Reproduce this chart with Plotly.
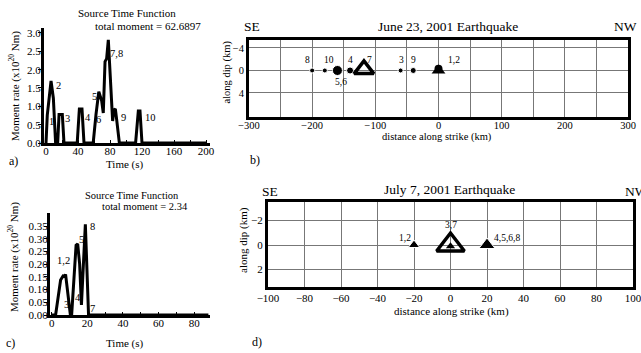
import plotly.graph_objects as go

W, H = 641, 353
FONT = "Liberation Serif"

# ---- data ----
# panel a: source time function, June 23 2001
t_a = [0, 1.6, 6.3, 9.2, 12, 14.6, 16.3, 20.4, 22.5, 39, 41.7, 45, 47.5, 59, 62.5, 66, 69.6,
       71.6, 73.8, 75.8, 77.9, 80, 82, 83.3, 85, 86.7, 88, 91.7, 112, 115.4, 117.5, 120, 200]
v_a = [0, 0.76, 1.69, 1.22, 0, 0, 0.78, 0.78, 0, 0, 0.93, 0.93, 0, 0, 0.78, 1.4, 1.15,
       0.82, 2.22, 2.3, 2.81, 1.95, 0.99, 0.6, 0.9, 0.93, 0.7, 0, 0, 0.87, 0.87, 0, 0]
lab_a = ["1", "2", "3", "4", "5", "6", "7,8", "9", "10"]
lab_a_t = [7, 16, 27, 53, 61, 66, 88, 97, 130]
lab_a_v = [0.58, 1.58, 0.68, 0.7, 1.26, 0.63, 2.45, 0.7, 0.7]
ticks_a_y = [0.0, 0.5, 1.0, 1.5, 2.0, 2.5, 3.0]

# panel c: source time function, July 7 2001
t_c = [0, 2.2, 5, 6.7, 7.2, 7.8, 10.5, 11.2, 13.7, 14.6, 15.7, 16.7, 18.9, 20.7, 88]
v_c = [0, 0, 0.138, 0.157, 0.148, 0.16, 0, 0, 0.275, 0.28, 0.2, 0.04, 0.357, 0, 0]
lab_c = ["1,2", "3", "4", "5", "8", "7"]
lab_c_t = [6.9, 8.3, 15, 16.7, 23, 23]
lab_c_v = [0.216, 0.04, 0.07, 0.298, 0.35, 0.027]
ticks_c_y = [0.0, 0.05, 0.10, 0.15, 0.20, 0.25, 0.30, 0.35]

# panel b: subevent locations, June 23
b_x = [-200, -180, -160, -140, -60, -40]
b_size = [5, 5, 10, 7, 5, 6]
b_hypo_x = [-118]
b_12_x = [0]
lab_b = ["8", "10", "5,6", "4", "7", "3", "9", "1,2"]
lab_b_x = [-207, -174, -155, -139, -109, -59, -39, 24]
lab_b_y = [-1.95, -1.95, 2.0, -1.95, -1.95, -1.95, -1.95, -1.95]

# panel d: subevent locations, July 7
d_x = [-20, 20]
d_size = [10, 14]
d_hypo_x = [0]
lab_d = ["1,2", "3,7", "4,5,6,8"]
lab_d_x = [-25, 0, 31]
lab_d_y = [-0.6, -1.6, -0.6]


def px(x):
    return x / W


def py(y):
    return 1 - y / H


fig = go.Figure()

# traces
fig.add_trace(go.Scatter(x=t_a, y=v_a, mode="lines", line=dict(color="black", width=3),
                         xaxis="x", yaxis="y", cliponaxis=False, hoverinfo="skip"))
fig.add_trace(go.Scatter(x=t_c, y=v_c, mode="lines", line=dict(color="black", width=3),
                         xaxis="x3", yaxis="y3", cliponaxis=False, hoverinfo="skip"))

fig.add_trace(go.Scatter(x=b_x, y=[0] * len(b_x), mode="markers",
                         marker=dict(color="black", size=b_size, symbol="circle", opacity=1),
                         xaxis="x2", yaxis="y2", hoverinfo="skip"))
fig.add_trace(go.Scatter(x=b_12_x, y=[0], mode="markers",
                         marker=dict(color="black", size=12, symbol="triangle-up", opacity=1),
                         xaxis="x2", yaxis="y2", hoverinfo="skip"))
fig.add_trace(go.Scatter(x=b_12_x, y=[-0.3], mode="markers",
                         marker=dict(color="black", size=8, symbol="circle", opacity=1),
                         xaxis="x2", yaxis="y2", hoverinfo="skip"))
fig.add_trace(go.Scatter(x=b_hypo_x, y=[-0.2], mode="markers",
                         marker=dict(color="black", size=17, symbol="triangle-up-open", opacity=1,
                                     line=dict(width=3.5, color="black")),
                         xaxis="x2", yaxis="y2", hoverinfo="skip"))

fig.add_trace(go.Scatter(x=d_x, y=[0, 0], mode="markers",
                         marker=dict(color="black", size=d_size, symbol="triangle-up", opacity=1),
                         xaxis="x4", yaxis="y4", hoverinfo="skip"))
fig.add_trace(go.Scatter(x=d_hypo_x, y=[0], mode="markers",
                         marker=dict(color="black", size=24, symbol="triangle-up-open", opacity=1,
                                     line=dict(width=3.5, color="black")),
                         xaxis="x4", yaxis="y4", hoverinfo="skip"))
fig.add_trace(go.Scatter(x=d_hypo_x, y=[0.1], mode="markers",
                         marker=dict(color="black", size=8, symbol="triangle-up", opacity=1),
                         xaxis="x4", yaxis="y4", hoverinfo="skip"))

tickf = dict(family=FONT, size=11, color="black")

# axes layout
layout = dict(
    width=W, height=H, margin=dict(l=0, r=0, t=0, b=0, autoexpand=False),
    paper_bgcolor="white", plot_bgcolor="white", showlegend=False,
    font=dict(family=FONT, color="black"), hovermode=False,
    # panel a
    xaxis=dict(domain=[px(44), px(210)], range=[-2.5, 205], showline=True, linewidth=3,
               linecolor="black", showgrid=False, zeroline=False, tickvals=[0, 40, 80, 120, 160, 200],
               ticks="inside", ticklen=3, tickcolor="black", tickfont=tickf, ticklabelstandoff=-4,
               minor=dict(tickvals=[20, 60, 100, 140, 180], ticks="inside", ticklen=3, tickcolor="black"),
               ticklabeloverflow="allow", anchor="y", automargin=False),
    yaxis=dict(domain=[py(143), py(28)], range=[0, 3.136], showline=True, linewidth=3,
               linecolor="black", showgrid=False, zeroline=False, tickvals=ticks_a_y, tickformat=".1f",
               ticks="outside", ticklen=3, tickcolor="black", tickfont=tickf, anchor="x",
               ticklabelstandoff=-5, automargin=False),
    # panel b
    xaxis2=dict(domain=[px(249), px(628)], range=[-300, 300], showline=True, mirror=True, linewidth=3,
                linecolor="black", showgrid=True, gridcolor="#777777", gridwidth=1, zeroline=False,
                dtick=100, tick0=0, ticks="", tickfont=dict(family=FONT, size=10.5, color="black"),
                minor=dict(dtick=50, showgrid=True, gridcolor="#777777", gridwidth=1),
                ticklabeloverflow="allow", ticklabelstandoff=-4, anchor="y2", automargin=False),
    yaxis2=dict(domain=[py(117), py(40)], range=[8.27, -5.42], showline=True, mirror=True, linewidth=3,
                linecolor="black", showgrid=True, gridcolor="#777777", gridwidth=1, zeroline=False,
                tickvals=[-4, 0, 4], ticks="", tickfont=dict(family=FONT, size=10.5, color="black"),
                anchor="x2", automargin=False),
    # panel c
    xaxis3=dict(domain=[px(50), px(210)], range=[-0.95, 88.9], showline=True, linewidth=3,
                linecolor="black", showgrid=False, zeroline=False, tickvals=[0, 20, 40, 60, 80],
                ticks="inside", ticklen=3, tickcolor="black", tickfont=tickf, ticklabelstandoff=-4,
                minor=dict(tickvals=[10, 30, 50, 70], ticks="inside", ticklen=3, tickcolor="black"),
                anchor="y3", automargin=False),
    yaxis3=dict(domain=[py(315), py(213)], range=[0, 0.4016], showline=True, linewidth=3,
                linecolor="black", showgrid=False, zeroline=False, tickvals=ticks_c_y, tickformat=".2f",
                ticks="outside", ticklen=3, tickcolor="black", tickfont=tickf, anchor="x3",
                ticklabelstandoff=-6, automargin=False),
    # panel d
    xaxis4=dict(domain=[px(268), px(633)], range=[-100, 100], showline=True, mirror=True, linewidth=3,
                linecolor="black", showgrid=True, gridcolor="#777777", gridwidth=1, zeroline=False,
                dtick=20, ticks="", tickfont=dict(family=FONT, size=11, color="black"),
                ticklabeloverflow="allow", ticklabelstandoff=-1, anchor="y4", automargin=False),
    yaxis4=dict(domain=[py(286.7), py(201.7)], range=[3.39, -3.52], showline=True, mirror=True,
                linewidth=3, linecolor="black", showgrid=True, gridcolor="#777777", gridwidth=1,
                zeroline=False, tickvals=[-2, 0, 2], ticks="",
                tickfont=dict(family=FONT, size=11, color="black"), anchor="x4", automargin=False),
)
fig.update_layout(**layout)

anns = []


def pa(text, x, y, size=11, angle=0, xanchor="center"):
    anns.append(dict(text=text, x=px(x), y=py(y), xref="paper", yref="paper", showarrow=False,
                     font=dict(family=FONT, size=size, color="black"), textangle=angle,
                     xanchor=xanchor, yanchor="middle"))


def da(text, x, y, xr, yr, size=10):
    anns.append(dict(text=text, x=x, y=y, xref=xr, yref=yr, showarrow=False,
                     font=dict(family=FONT, size=size, color="black"),
                     xanchor="center", yanchor="middle"))


# panel a texts
pa("Source Time Function", 126.7, 13.5, 11)
pa("total moment = 62.6897", 148, 26, 11)
pa("Time (s)", 125, 165, 11)
pa("a)", 13, 161, 12)
pa("Moment rate (x10<sup>20</sup> Nm)", 15, 86, 11, angle=-90)
for s, x, y in zip(lab_a, lab_a_t, lab_a_v):
    da(s, x, y, "x", "y", 10.5)

# panel c texts
pa("Source Time Function", 131.7, 195, 10.5)
pa("total moment = 2.34", 145, 206.7, 10.5)
pa("Time (s)", 125, 343, 11)
pa("c)", 10, 343, 12)
pa("Moment rate (x10<sup>20</sup> Nm)", 13, 257, 11, angle=-90)
for s, x, y in zip(lab_c, lab_c_t, lab_c_v):
    da(s, x, y, "x3", "y3", 10.5)

# panel b texts
pa("SE", 251.7, 26.7, 13.5)
pa("June 23, 2001 Earthquake", 448, 26.7, 13.5)
pa("NW", 625, 26.7, 13.5)
pa("along dip (km)", 226.5, 72, 10.5, angle=-90)
pa("distance along strike (km)", 436.7, 137.5, 10.5)
pa("b)", 255, 160, 12)
for s, x, y in zip(lab_b, lab_b_x, lab_b_y):
    da(s, x, y, "x2", "y2", 9.5)

# panel d texts
pa("SE", 270, 191.7, 13.5)
pa("July 7, 2001 Earthquake", 450, 190, 13.5)
pa("NW", 623, 191.7, 13.5, xanchor="left")
pa("along dip (km)", 243, 240, 11, angle=-90)
pa("distance along strike (km)", 451.7, 311.7, 11)
pa("d)", 256.7, 341.7, 12)
for s, x, y in zip(lab_d, lab_d_x, lab_d_y):
    da(s, x, y, "x4", "y4", 9.5)

fig.update_layout(annotations=anns)
fig.write_html("out.html", config={"displayModeBar": False, "staticPlot": True},
               post_script="document.body.style.margin='0';document.body.style.overflow='hidden';")
